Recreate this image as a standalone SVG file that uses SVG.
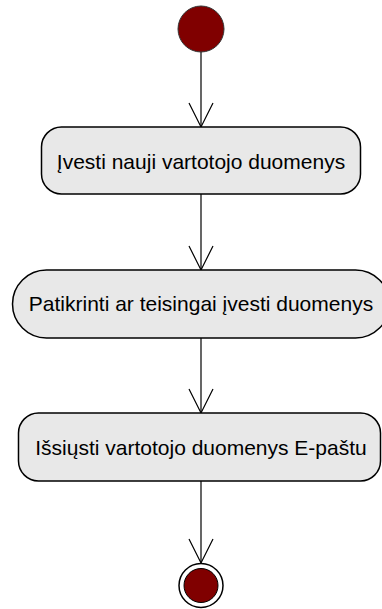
<svg xmlns="http://www.w3.org/2000/svg" width="382" height="609" viewBox="0 0 382 609">
  <style>
    .action { fill: #e8e8e8; stroke: #000; stroke-width: 1.5; }
    .label { font-family: "Liberation Sans", Arial, sans-serif; font-size: 21px; fill: #000; text-anchor: middle; }
    .flow { stroke: #000; stroke-width: 1.2; fill: none; marker-end: url(#open-arrow); }
    .token { fill: #800000; stroke: #333; stroke-width: 1; }
  </style>
  <defs>
    <marker id="open-arrow" markerUnits="userSpaceOnUse" viewBox="-25 -13 27 26" refX="0" refY="0" markerWidth="27" markerHeight="26" orient="auto" overflow="visible">
      <path d="M-24,-12 L0,0 L-24,12" fill="none" stroke="#000" stroke-width="1.2"/>
    </marker>
  </defs>
  <rect width="382" height="609" fill="#fff"/>

  <g id="connectors">
    <line class="flow" x1="201" y1="52" x2="201" y2="127"/>
    <line class="flow" x1="201" y1="194" x2="201" y2="270"/>
    <line class="flow" x1="201" y1="338" x2="201" y2="413"/>
    <line class="flow" x1="201" y1="481" x2="201" y2="563"/>
  </g>

  <g id="start">
    <circle class="token" cx="201" cy="29" r="23"/>
  </g>

  <g id="enter-data">
    <rect class="action" x="41.5" y="127" width="319" height="67" rx="20" ry="20"/>
    <text class="label" x="201" y="169">Įvesti nauji vartotojo duomenys</text>
  </g>

  <g id="check-data">
    <rect class="action" x="12.5" y="270" width="377" height="68" rx="34" ry="34"/>
    <text class="label" x="201" y="311">Patikrinti ar teisingai įvesti duomenys</text>
  </g>

  <g id="send-email">
    <rect class="action" x="18.5" y="413" width="362" height="68" rx="20" ry="20"/>
    <text class="label" x="201" y="455">Išsiųsti vartotojo duomenys E-paštu</text>
  </g>

  <g id="end">
    <circle cx="201" cy="585.5" r="22" fill="#fff" stroke="#000" stroke-width="1.5"/>
    <circle cx="201" cy="585.5" r="17" fill="#800000" stroke="#000" stroke-width="1"/>
  </g>
</svg>
